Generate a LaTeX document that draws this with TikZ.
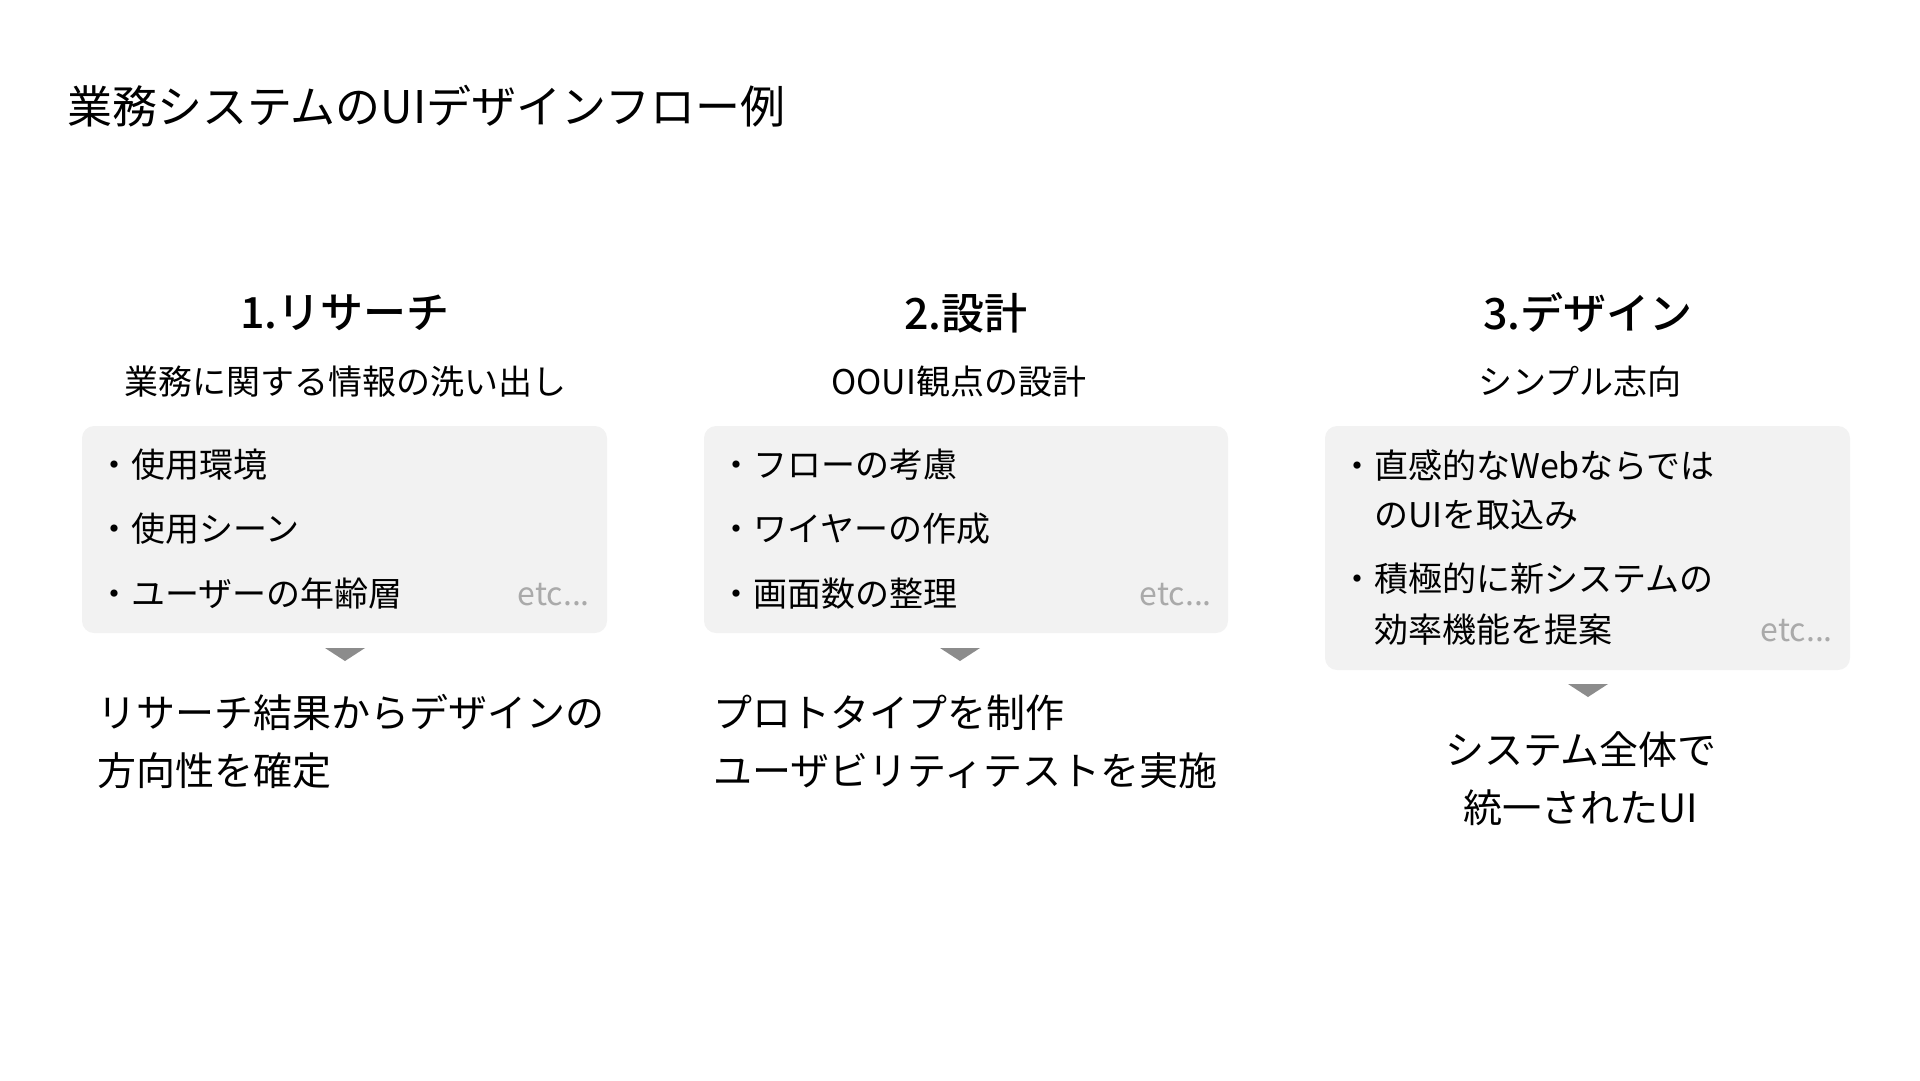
\documentclass[tikz,border=0pt]{standalone}
\usepackage{fontspec}
\setmainfont{Noto Sans CJK JP}[BoldFont={Noto Sans CJK JP Medium}]
\usetikzlibrary{calc}
\definecolor{boxgray}{HTML}{F2F2F2}
\definecolor{markgray}{HTML}{8C8C8C}
\definecolor{etcgray}{HTML}{AAAAAA}
\tikzset{
    stagebox/.style={fill=boxgray, rounded corners=12pt},
    stagehead/.style={inner sep=0pt, font=\fontsize{43}{50}\selectfont\bfseries},
    stagesub/.style={inner sep=0pt, font=\fontsize{34}{40}\selectfont},
    item/.style={inner sep=0pt, anchor=west, font=\fontsize{34}{40}\selectfont},
    etcnote/.style={inner sep=0pt, anchor=east, text=etcgray, font=\fontsize{32}{40}\selectfont},
    result/.style={inner sep=0pt, font=\fontsize{39}{58}\selectfont},
    downmark/.style={fill=markgray}
}

\begin{document}
\begin{tikzpicture}[x=1pt,y=-1pt]
    \useasboundingbox (0,0) rectangle (1920,1080);
    \node[inner sep=0pt, anchor=west, font=\fontsize{45}{50}\selectfont] (title) at (67,106) {業務システムのUIデザインフロー例};

    % boxes
    \fill[stagebox] (82,426) rectangle (607,633);
    \fill[stagebox] (704,426) rectangle (1228,633);
    \fill[stagebox] (1325,426) rectangle (1850,670);

    % headings
    \node[stagehead] (research) at (345,313) {1.リサーチ};
    \node[stagehead] (plan) at (966,313) {2.設計};
    \node[stagehead] (design) at (1588,313) {3.デザイン};
    \node[stagesub] (researchsub) at (345,382) {業務に関する情報の洗い出し};
    \node[stagesub] (plansub) at (959,382) {OOUI観点の設計};
    \node[stagesub] (designsub) at (1580,382) {シンプル志向};

    % items
    \node[item] (r1) at (97,465) {・使用環境};
    \node[item] (r2) at (97,529) {・使用シーン};
    \node[item] (r3) at (97,594) {・ユーザーの年齢層};
    \node[etcnote] (retc) at (590,595) {etc...};
    \node[item] (p1) at (719,465) {・フローの考慮};
    \node[item] (p2) at (719,529) {・ワイヤーの作成};
    \node[item] (p3) at (719,594) {・画面数の整理};
    \node[etcnote] (petc) at (1212,595) {etc...};
    \node[item] (d1) at (1340,465) {・直感的なWebならでは};
    \node[item] (d1b) at (1374,515) {のUIを取込み};
    \node[item] (d2) at (1340,579) {・積極的に新システムの};
    \node[item] (d2b) at (1374,630) {効率機能を提案};
    \node[etcnote] (detc) at (1833,631) {etc...};

    % arrows
    \foreach \cx/\cy in {345/648, 960/648, 1588/684}
        \fill[downmark] (\cx-20,\cy) -- (\cx+20,\cy) -- (\cx,\cy+13) -- cycle;

    % results
    \node[result, anchor=west, align=left] (researchout) at (97,742) {リサーチ結果からデザインの\\方向性を確定};
    \node[result, anchor=west, align=left] (planout) at (713,742) {プロトタイプを制作\\ユーザビリティテストを実施};
    \node[result, align=center] (designout) at (1581,779) {システム全体で\\統一されたUI};
\end{tikzpicture}
\end{document}
